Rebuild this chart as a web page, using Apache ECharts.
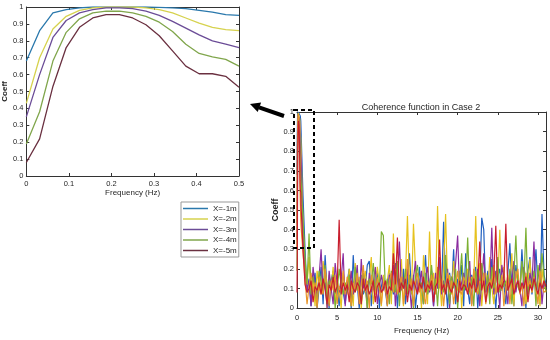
<!DOCTYPE html>
<html><head><meta charset="utf-8">
<script src="https://cdn.jsdelivr.net/npm/echarts@6/dist/echarts.min.js"></script>
<style>html,body{margin:0;padding:0;background:#fff}#c{width:550px;height:340px}</style>
</head><body><div id="c"></div>
<script>
// ---------- DATA ----------
const legendNames = ['X=-1m','X=-2m','X=-3m','X=-4m','X=-5m'];
const leftFreq = [0,0.03125,0.0625,0.09375,0.125,0.15625,0.1875,0.21875,0.25,0.28125,0.3125,0.34375,0.375,0.40625,0.4375,0.46875,0.5];
const leftX1 = [0.68,0.86,0.965,0.985,0.995,1,1,1,1,1,0.998,0.995,0.99,0.98,0.97,0.955,0.95];
const leftX2 = [0.43,0.70,0.87,0.945,0.98,0.995,1,1,1,0.995,0.985,0.965,0.935,0.905,0.88,0.866,0.86];
const leftX3 = [0.35,0.60,0.82,0.92,0.965,0.985,0.995,0.995,0.99,0.975,0.95,0.915,0.875,0.835,0.80,0.78,0.76];
const leftX4 = [0.19,0.38,0.68,0.85,0.93,0.965,0.975,0.975,0.965,0.945,0.91,0.855,0.78,0.725,0.705,0.69,0.65];
const leftX5 = [0.08,0.22,0.53,0.76,0.88,0.935,0.955,0.955,0.935,0.895,0.83,0.74,0.65,0.605,0.605,0.59,0.525];
const orangeEarly = [0.30,0.55,0.80,0.92,0.97,0.99,0.99,0.98,0.95,0.90,0.82,0.72,0.62,0.55,0.50,0.45,0.42];
// value at 0.75 Hz for right-chart series
const at075 = {blue:0.57, yellow:0.42, purple:0.36, green:0.45, red:0.30, orange:0.28};
// tail 1.0 .. 31.0 Hz, step 0.25 Hz (rows of 5 Hz)
const tailStep = 0.25, tailStart = 1.0;
const blueTail = [
0.30,0.08,0.15,0.01,0.12,0.18,0.00,0.10,0.21,0.02,0.27,0.09,0.00,0.14,0.19,0.07,0.11,0.01,0.16,0.08,
0.02,0.13,0.20,0.00,0.27,0.09,0.12,0.00,0.17,0.07,0.10,0.22,0.24,0.01,0.14,0.08,0.19,0.00,0.11,0.16,
0.09,0.01,0.18,0.12,0.07,0.23,0.00,0.15,0.10,0.20,0.02,0.13,0.28,0.08,0.17,0.00,0.11,0.21,0.02,0.14,
0.27,0.07,0.12,0.19,0.01,0.16,0.10,0.24,0.08,0.44,0.13,0.00,0.18,0.09,0.30,0.02,0.15,0.11,0.22,0.01,
0.28,0.10,0.02,0.17,0.12,0.21,0.00,0.14,0.46,0.40,0.08,0.19,0.07,0.25,0.11,0.00,0.16,0.20,0.09,0.13,
0.02,0.18,0.33,0.10,0.01,0.22,0.14,0.08,0.30,0.12,0.00,0.19,0.26,0.07,0.15,0.30,0.10,0.02,0.48,0.17,
0.12];
const yellowTail = [
0.22,0.12,0.26,0.08,0.15,0.01,0.19,0.11,0.07,0.24,0.13,0.00,0.17,0.09,0.21,0.02,0.14,0.10,0.00,0.18,
0.11,0.07,0.20,0.14,0.01,0.23,0.09,0.16,0.00,0.12,0.19,0.08,0.15,0.26,0.02,0.10,0.21,0.13,0.01,0.17,
0.08,0.14,0.22,0.02,0.38,0.11,0.18,0.09,0.25,0.01,0.16,0.47,0.12,0.07,0.43,0.20,0.10,0.15,0.00,0.27,
0.13,0.02,0.39,0.10,0.18,0.08,0.52,0.14,0.01,0.21,0.48,0.11,0.17,0.07,0.24,0.12,0.09,0.19,0.00,0.15,
0.10,0.20,0.07,0.16,0.12,0.47,0.09,0.23,0.01,0.14,0.18,0.08,0.26,0.11,0.02,0.17,0.13,0.40,0.09,0.21,
0.07,0.15,0.11,0.28,0.01,0.19,0.13,0.09,0.22,0.16,0.02,0.12,0.25,0.08,0.18,0.10,0.14,0.01,0.20,0.11,
0.09];
const purpleTail = [
0.18,0.09,0.14,0.01,0.21,0.11,0.07,0.16,0.30,0.08,0.13,0.00,0.19,0.10,0.02,0.23,0.12,0.08,0.15,0.28,
0.01,0.14,0.09,0.19,0.07,0.12,0.22,0.02,0.25,0.10,0.15,0.00,0.18,0.08,0.13,0.21,0.02,0.11,0.17,0.09,
0.12,0.02,0.17,0.10,0.22,0.01,0.14,0.34,0.09,0.16,0.07,0.20,0.11,0.00,0.15,0.24,0.08,0.13,0.19,0.02,
0.15,0.21,0.08,0.12,0.01,0.18,0.10,0.26,0.07,0.14,0.09,0.20,0.00,0.16,0.11,0.23,0.37,0.08,0.13,0.18,
0.09,0.14,0.24,0.02,0.17,0.11,0.20,0.01,0.13,0.28,0.08,0.16,0.10,0.41,0.07,0.19,0.12,0.00,0.22,0.15,
0.11,0.02,0.19,0.13,0.24,0.08,0.16,0.10,0.01,0.21,0.14,0.07,0.18,0.12,0.34,0.09,0.15,0.23,0.02,0.13,
0.10];
const greenTail = [
0.25,0.12,0.38,0.07,0.16,0.10,0.01,0.19,0.13,0.08,0.22,0.02,0.14,0.11,0.17,0.00,0.09,0.20,0.12,0.07,
0.13,0.08,0.17,0.01,0.11,0.21,0.09,0.14,0.02,0.18,0.10,0.00,0.15,0.12,0.23,0.07,0.16,0.09,0.39,0.37,
0.10,0.15,0.02,0.19,0.12,0.08,0.24,0.01,0.14,0.10,0.20,0.07,0.17,0.11,0.00,0.16,0.22,0.09,0.13,0.02,
0.18,0.07,0.12,0.22,0.09,0.15,0.01,0.19,0.11,0.08,0.27,0.13,0.02,0.16,0.10,0.20,0.00,0.14,0.28,0.09,
0.12,0.36,0.08,0.15,0.01,0.19,0.11,0.07,0.23,0.14,0.09,0.17,0.02,0.21,0.10,0.13,0.26,0.08,0.16,0.11,
0.14,0.09,0.20,0.02,0.17,0.37,0.11,0.08,0.24,0.13,0.41,0.07,0.15,0.10,0.19,0.01,0.22,0.12,0.28,0.16,
0.08];
const orangeTail = [
0.15,0.02,0.11,0.18,0.08,0.13,0.00,0.16,0.10,0.07,0.20,0.12,0.01,0.14,0.09,0.17,0.02,0.11,0.08,0.19,
0.07,0.16,0.10,0.01,0.13,0.09,0.18,0.02,0.12,0.22,0.08,0.14,0.00,0.17,0.10,0.07,0.15,0.11,0.02,0.13,
0.11,0.01,0.14,0.18,0.08,0.20,0.07,0.12,0.16,0.02,0.10,0.25,0.09,0.15,0.01,0.13,0.18,0.08,0.11,0.07,
0.02,0.14,0.09,0.17,0.11,0.07,0.21,0.10,0.15,0.01,0.12,0.18,0.08,0.14,0.02,0.11,0.19,0.09,0.07,0.16,
0.13,0.08,0.16,0.01,0.20,0.10,0.07,0.14,0.12,0.18,0.02,0.09,0.15,0.11,0.22,0.07,0.13,0.10,0.17,0.01,
0.10,0.17,0.02,0.13,0.09,0.15,0.20,0.07,0.12,0.01,0.18,0.11,0.14,0.08,0.16,0.10,0.02,0.19,0.12,0.08,
0.09];
const redTail = [
0.12,0.08,0.10,0.14,0.03,0.11,0.09,0.13,0.07,0.15,0.10,0.02,0.12,0.09,0.16,0.08,0.11,0.45,0.07,0.13,
0.09,0.12,0.03,0.14,0.10,0.08,0.13,0.11,0.02,0.15,0.09,0.12,0.07,0.10,0.14,0.03,0.11,0.13,0.08,0.10,
0.14,0.07,0.11,0.09,0.28,0.12,0.36,0.08,0.13,0.10,0.15,0.03,0.12,0.09,0.14,0.11,0.07,0.13,0.10,0.16,
0.08,0.12,0.10,0.14,0.03,0.11,0.13,0.35,0.09,0.12,0.07,0.15,0.10,0.08,0.13,0.11,0.03,0.14,0.09,0.12,
0.11,0.07,0.13,0.10,0.15,0.08,0.12,0.34,0.09,0.14,0.03,0.11,0.13,0.10,0.16,0.42,0.08,0.12,0.10,0.14,
0.43,0.09,0.12,0.15,0.07,0.11,0.14,0.08,0.13,0.10,0.16,0.03,0.12,0.09,0.15,0.11,0.07,0.13,0.10,0.14,
0.11];

// ---------- BUILD ----------
const tailFreq = blueTail.map((_, i) => tailStart + i * tailStep);
const rightFreq = leftFreq.concat([0.75], tailFreq);
const pairs = (xs, ys) => xs.map((x, i) => [x, ys[i]]);
const font = 'Liberation Sans, Arial, sans-serif';
const axCol = '#333';
const leftColors = ['#2a78ac','#d6d24e','#6b4c97','#80a64c','#6a3040'];
const rc = {blue:'#1f5fc0', yellow:'#e6c21e', purple:'#8a2c9e', green:'#7cb032', orange:'#e8952a', red:'#c81e2e'};

function xAx(grid, pos, min, max, interval, showLab, name, margin, nameGap) {
  return {type:'value', gridIndex:grid, position:pos, min, max, interval,
    axisLine:{show:true, onZero:false, lineStyle:{color:axCol, width:1}},
    axisTick:{show:true, inside:true, length:3, lineStyle:{color:axCol}},
    axisLabel:{show:showLab, fontSize:7.5, color:'#262626', margin, fontFamily:font},
    splitLine:{show:false},
    name: name, nameLocation:'middle', nameGap: nameGap,
    nameTextStyle:{fontSize:8, color:'#262626', fontFamily:font}};
}
function yAx(grid, pos, showLab, name, nameGap, nameSize) {
  return {type:'value', gridIndex:grid, position:pos, min:0, max:1, interval:0.1,
    axisLine:{show:true, onZero:false, lineStyle:{color:axCol, width:1}},
    axisTick:{show:true, inside:true, length:3, lineStyle:{color:axCol}},
    axisLabel:{show:showLab, fontSize:7.5, color:'#262626', margin:3, fontFamily:font},
    splitLine:{show:false},
    name: name, nameLocation:'middle', nameGap: nameGap, nameRotate:90,
    nameTextStyle:{fontSize:nameSize || 8, fontWeight:'bold', color:'#262626', fontFamily:font}};
}

const leftVals = [leftX1, leftX2, leftX3, leftX4, leftX5];
const series = [];
leftVals.forEach((v, i) => series.push({
  name: legendNames[i], type:'line', xAxisIndex:0, yAxisIndex:0,
  data: pairs(leftFreq, v), symbol:'none', lineStyle:{width:1.3, color:leftColors[i]},
  itemStyle:{color:leftColors[i]}, z:3
}));
const rightDefs = [
  ['blue', leftX1, blueTail], ['yellow', leftX2, yellowTail], ['purple', leftX3, purpleTail],
  ['green', leftX4, greenTail], ['orange', orangeEarly, orangeTail], ['red', leftX5, redTail]
];
rightDefs.forEach(([k, early, tail]) => series.push({
  name: 'R-' + k, type:'line', xAxisIndex:2, yAxisIndex:2,
  data: pairs(rightFreq, early.concat([at075[k]], tail)),
  symbol:'none', lineStyle:{width:1.2, color:rc[k]}, itemStyle:{color:rc[k]}, z:2
}));

const option = {
  animation:false,
  backgroundColor:'#fff',
  textStyle:{fontFamily:font},
  title:{text:'Coherence function in Case 2', left:421, top:103, textAlign:'center', padding:0,
    textStyle:{fontSize:9, fontWeight:'normal', color:'#262626', fontFamily:font}},
  legend:{data:legendNames, orient:'vertical', left:181, top:202, icon:'rect', itemWidth:25, itemHeight:1.5,
    itemGap:1.5, padding:[2,2,2,2], borderColor:'#999', borderWidth:1, backgroundColor:'#fff',
    textStyle:{fontSize:8, color:'#262626', fontFamily:font, lineHeight:9}},
  grid:[{left:25, top:7, width:214, height:169}, {left:297, top:112, width:249, height:197}],
  xAxis:[
    xAx(0,'bottom',0,0.5,0.1,true,'Frequency (Hz)',4,13),
    xAx(0,'top',0,0.5,0.1,false,'',4,0),
    xAx(1,'bottom',0,31,5,true,'Frequency (Hz)',6,15),
    xAx(1,'top',0,31,5,false,'',6,0)
  ],
  yAxis:[
    yAx(0,'left',true,'Coeff',14,8),
    yAx(0,'right',false,'',0),
    yAx(1,'left',true,'Coeff',17,9),
    yAx(1,'right',false,'',0)
  ],
  series: series,
  graphic:[
    {type:'rect', shape:{x:294, y:110, width:20, height:138}, z:100,
      style:{fill:null, stroke:'#000', lineWidth:2, lineDash:[4,3]}},
    {type:'line', shape:{x1:284, y1:116, x2:259, y2:107.3}, z:100,
      style:{stroke:'#000', lineWidth:4}},
    {type:'polygon', shape:{points:[[250,104],[261.1,102.6],[257.7,112]]}, z:100,
      style:{fill:'#000'}}
  ]
};
const chart = echarts.init(document.getElementById('c'), null, {renderer:'canvas'});
chart.setOption(option);
</script></body></html>
